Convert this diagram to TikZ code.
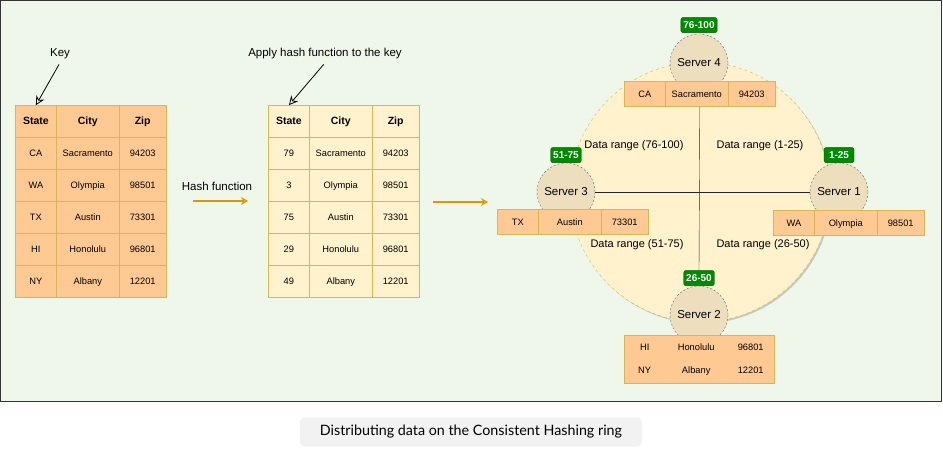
\documentclass[tikz,border=0pt]{standalone}
\usepackage{fontspec}
\setmainfont{Liberation Sans}
\newfontfamily\captionfont{Lato}
\usetikzlibrary{positioning, matrix, arrows.meta, shadows}

\definecolor{mintbg}{HTML}{EEF7EA}
\definecolor{peach}{HTML}{FFC994}
\definecolor{cream}{HTML}{FFF2CC}
\definecolor{tanline}{HTML}{D6B656}
\definecolor{serverfill}{HTML}{EDDFBE}
\definecolor{tagfill}{HTML}{008A00}
\definecolor{tagline}{HTML}{005700}
\definecolor{hashorange}{HTML}{D79B00}
\definecolor{captiongray}{HTML}{F2F2F2}

\begin{document}
\begin{tikzpicture}[x=1pt, y=-1pt,
    label text/.style={font=\fontsize{11.5}{13}\selectfont},
    range text/.style={font=\fontsize{11}{13}\selectfont},
    pointer/.style={-{Stealth[open, length=9pt, width=9pt]}, thick, shorten <=2pt},
    hash arrow/.style={-{Stealth[open, length=7pt, width=8pt]}, hashorange, line width=1.5pt},
    soft shadow/.style={drop shadow={shadow xshift=1.5pt, shadow yshift=-1.5pt, fill=black, opacity=0.18}},
    cellgrid/.style={matrix of nodes, inner sep=0pt, column sep=-0.5pt, row sep=-0.5pt,
      nodes={anchor=center, inner sep=0pt, text height=1.6ex, text depth=0.4ex,
        font=\fontsize{9.3}{11}\selectfont},
      column 1/.style={nodes={minimum width=41}},
      column 2/.style={nodes={minimum width=63}},
      column 3/.style={nodes={minimum width=47}}},
    datatable/.style={cellgrid, nodes={draw=tanline, fill=#1, minimum height=32},
      row 1/.style={nodes={font=\fontsize{10.5}{12}\selectfont\bfseries}}},
    rowbox/.style={cellgrid, nodes={draw=tanline, fill=peach, minimum height=25}},
    stackbox/.style={cellgrid, draw=tanline, fill=peach, nodes={minimum height=24}},
    ring/.style={circle, draw=tanline, dash pattern=on 3pt off 3pt, fill=cream, minimum size=260, soft shadow},
    server/.style={circle, draw=black!60, dash pattern=on 2pt off 2pt, fill=serverfill, minimum size=58,
      inner sep=0pt, font=\fontsize{11.5}{13}\selectfont},
    tag/.style={fill=tagfill, draw=tagline, rounded corners=2pt, text=white, minimum width=30,
      minimum height=15, inner xsep=2.5pt, inner ysep=0pt, font=\fontsize{10}{12}\selectfont\bfseries},
    caption/.style={fill=captiongray, rounded corners=4pt, minimum width=342, minimum height=29,
      font=\captionfont\fontsize{14.3}{16}\selectfont}]

      \useasboundingbox (0,0) rectangle (943,457);

      % Frame of the diagram
      \draw[fill=mintbg, draw=black!80, line width=1pt] (0.5,1) rectangle (941,401);

      % Nodes for the key table and the hashed table
      \matrix[datatable=peach, anchor=north west] (keys) at (15,105) {
        State & City & Zip \\
        CA & Sacramento & 94203 \\
        WA & Olympia & 98501 \\
        TX & Austin & 73301 \\
        HI & Honolulu & 96801 \\
        NY & Albany & 12201 \\
      };
      \matrix[datatable=cream, anchor=north west] (hashed) at (268,105) {
        State & City & Zip \\
        79 & Sacramento & 94203 \\
        3 & Olympia & 98501 \\
        75 & Austin & 73301 \\
        29 & Honolulu & 96801 \\
        49 & Albany & 12201 \\
      };
      \node[label text] (key) at (60,54) {Key};
      \node[label text] (apply) at (325,54) {Apply hash function to the key};
      \node[label text] (hashlabel) at (217,186) {Hash function};
      \coordinate (hashfrom) at (193,201);
      \coordinate (hashto) at (248,201);
      \coordinate (ringfrom) at (433,202);
      \coordinate (ringto) at (488,202);

      % Nodes for the ring
      \node[ring] (ring) at (700,192) {};
      \node[server] (s4) at (699,63) {Server 4};
      \node[server] (s3) at (566,192) {Server 3};
      \node[server] (s1) at (839,192) {Server 1};
      \node[server] (s2) at (699,315) {Server 2};
      \node[tag] (tag4) [above=1pt of s4] {76-100};
      \node[tag] (tag3) [above=0pt of s3] {51-75};
      \node[tag] (tag1) [above=0pt of s1] {1-25};
      \node[tag] (tag2) [above=0pt of s2] {26-50};
      \matrix[rowbox, anchor=north west] (row4) at (624,81) {CA & Sacramento & 94203 \\};
      \matrix[rowbox, anchor=north west] (row3) at (497,209) {TX & Austin & 73301 \\};
      \matrix[rowbox, anchor=north west] (row1) at (773,210) {WA & Olympia & 98501 \\};
      \matrix[stackbox, anchor=north west] (row2) at (624,335) {
        HI & Honolulu & 96801 \\
        NY & Albany & 12201 \\
      };
      \node[range text] (range4) at (634,146) {Data range (76-100)};
      \node[range text] (range1) at (760,146) {Data range (1-25)};
      \node[range text] (range3) at (637,245) {Data range (51-75)};
      \node[range text] (range2) at (763,245) {Data range (26-50)};

      \node[caption] (cap) at (471,432) {Distributing data on the Consistent Hashing ring};

      % Edges
      \draw[pointer] (key.south) -- (keys-1-1.north);
      \draw[pointer] (apply.south) -- (hashed-1-1.north);
      \draw[hash arrow] (hashfrom) -- (hashto);
      \draw[hash arrow] (ringfrom) -- (ringto);
      \draw[black!85] (row4.south) -- (tag2.north);
      \draw[black!85] (s3.east) -- (s1.west);

\end{tikzpicture}
\end{document}
